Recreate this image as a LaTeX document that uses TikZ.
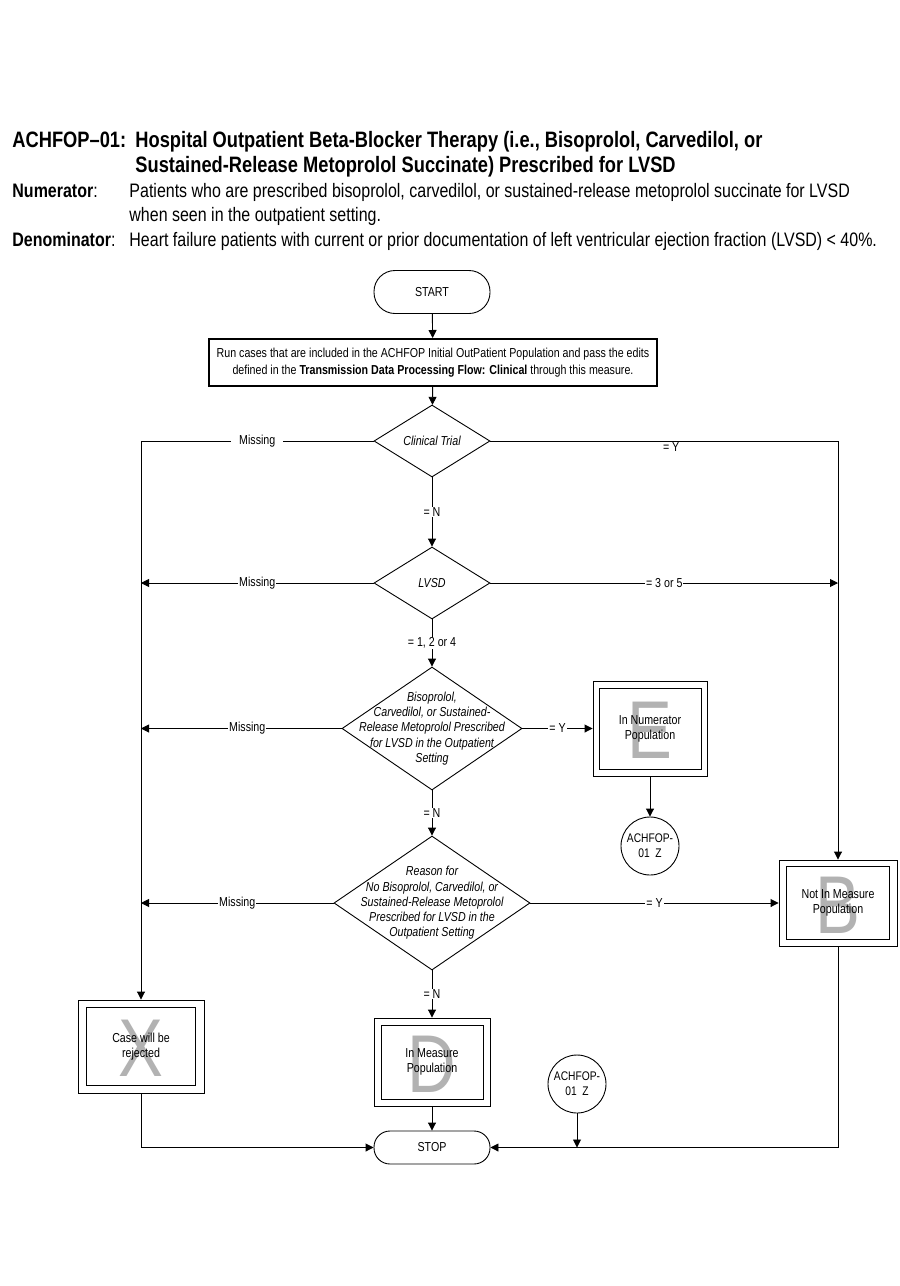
\documentclass[tikz,border=0pt]{standalone}
\usepackage{fontspec}
\setmainfont{Liberation Sans}[FakeStretch=0.82]
\usetikzlibrary{arrows.meta,shapes.geometric}
\begin{document}
\begin{tikzpicture}[x=1pt,y=-1pt,
  line width=0.9pt,
  >={Triangle[length=8pt,width=8pt]},
  hdr/.style={anchor=base west, inner sep=0pt, font=\fontsize{19.5}{24}\selectfont},
  ttl/.style={anchor=base west, inner sep=0pt, font=\fontsize{22.3}{26}\selectfont\bfseries},
  txt/.style={font=\fontsize{13}{15}\selectfont, align=center, inner sep=0pt},
  ctxt/.style={font=\fontsize{12.5}{15}\selectfont, align=center, inner sep=0pt},
  dia/.style={draw, diamond, inner sep=0pt},
  dtext/.style={font=\fontsize{13}{15.3}\selectfont\itshape, align=center, inner sep=0pt},
  term/.style={draw, rectangle, minimum width=116pt, font=\fontsize{13}{15}\selectfont},
  obox/.style={draw, rectangle, inner sep=0pt},
  big/.style={text=black!30, font=\fontsize{82}{82}\selectfont, inner sep=0pt},
  circ/.style={draw, circle, minimum size=58pt, inner sep=0pt},
  lab/.style={fill=white, inner sep=1pt, font=\fontsize{13}{15}\selectfont},
  labw/.style={fill=white, inner ysep=1pt, inner xsep=8pt, font=\fontsize{13}{15}\selectfont},
]
\useasboundingbox (0,0) rectangle (900,1286);
\fill[white] (0,0) rectangle (900,1286);

% header
\node[ttl] (t1) at (12,147) {ACHFOP\textendash01:};
\node[ttl] (t2) at (135,147) {Hospital Outpatient Beta-Blocker Therapy (i.e., Bisoprolol, Carvedilol, or};
\node[ttl] (t3) at (135,172) {Sustained-Release Metoprolol Succinate) Prescribed for LVSD};
\node[hdr] (n1) at (12,197) {\textbf{Numerator}:};
\node[hdr] (n2) at (129,197) {Patients who are prescribed bisoprolol, carvedilol, or sustained-release metoprolol succinate for LVSD};
\node[hdr] (n3) at (129,221) {when seen in the outpatient setting.};
\node[hdr] (m1) at (12,246) {\textbf{Denominator}:};
\node[hdr] (m2) at (129,246) {Heart failure patients with current or prior documentation of left ventricular ejection fraction (LVSD) < 40\%.};

% nodes
\node[term, minimum height=43pt, rounded corners=21pt] (start) at (432,292) {START};
\node[draw, line width=2pt, minimum width=448pt, minimum height=47pt, txt, font=\fontsize{13}{17}\selectfont] (run) at (433,362.5)
  {Run cases that are included in the ACHFOP Initial OutPatient Population and pass the edits\\
   defined in the \textbf{Transmission Data Processing Flow: Clinical} through this measure.};

\node[dia, minimum width=116pt, minimum height=72pt] (ct) at (432,441) {};
\node[dtext] (ctt) at (ct.center) {Clinical Trial};

\node[dia, minimum width=116pt, minimum height=72pt] (lv) at (432,583) {};
\node[dtext] (lvt) at (lv.center) {LVSD};

\node[dia, minimum width=180pt, minimum height=123pt] (d3) at (432,728.5) {};
\node[dtext] (d3t) at (d3.center) {Bisoprolol,\\Carvedilol, or Sustained-\\Release Metoprolol Prescribed\\for LVSD in the Outpatient\\Setting};

\node[dia, minimum width=196pt, minimum height=134pt] (d4) at (432,903) {};
\node[dtext] (d4t) at (d4.center) {Reason for\\No Bisoprolol, Carvedilol, or\\Sustained-Release Metoprolol\\Prescribed for LVSD in the\\Outpatient Setting};

% numerator box E
\node[obox, minimum width=114pt, minimum height=95pt] (num) at (650,728.5) {};
\node[obox, minimum width=102pt, minimum height=81pt] (numi) at (num.center) {};
\node[big] (numl) at ([yshift=-2pt]num.center) {E};
\node[txt] (numt) at (num.center) {In Numerator\\Population};

\node[circ] (c1) at (650,846) {};
\node[ctxt] (c1t) at (c1.center) {ACHFOP-\\01\ \ Z};

% not in measure box B
\node[obox, minimum width=118pt, minimum height=86pt] (nim) at (838,903) {};
\node[obox, minimum width=103pt, minimum height=73pt] (nimi) at (nim.center) {};
\node[big] (niml) at ([yshift=-2pt]nim.center) {B};
\node[txt] (nimt) at (nim.center) {Not In Measure\\Population};

% case rejected X
\node[obox, minimum width=126pt, minimum height=93pt] (case) at (141,1046.5) {};
\node[obox, minimum width=109pt, minimum height=78pt] (casei) at (case.center) {};
\node[big] (casel) at ([yshift=-2pt]case.center) {X};
\node[txt] (caset) at (case.center) {Case will be\\rejected};

% in measure D
\node[obox, minimum width=116pt, minimum height=88pt] (im) at (432,1062) {};
\node[obox, minimum width=102pt, minimum height=74pt] (imi) at (im.center) {};
\node[big] (iml) at ([yshift=-2pt]im.center) {D};
\node[txt] (imt) at (im.center) {In Measure\\Population};

\node[term, minimum height=33pt, rounded corners=16pt] (stop) at (432,1147.5) {STOP};
\node[circ] (c2) at (577,1084) {};
\node[ctxt] (c2t) at (c2.center) {ACHFOP-\\01\ \ Z};

% connectors
\draw[->] (start) -- (run);
\draw[->] (run) -- (ct);

\draw[->] (ct.west) -- node[labw]{Missing} (ct.west -| case.north) -- (case.north);
\draw[->] (ct.east) -- node[labw, pos=0.52, yshift=-6pt]{= Y} (ct.east -| nim.north) -- (nim.north);
\draw[->] (ct.south) -- node[lab]{= N} (lv.north);

\draw[->] (lv.west) -- node[lab]{Missing} (lv.west -| case.north);
\draw[->] (lv.east) -- node[lab]{= 3 or 5} (lv.east -| nim.north);
\draw[->] (lv.south) -- node[lab]{= 1, 2 or 4} (d3.north);

\draw[->] (d3.west) -- node[lab, pos=0.47]{Missing} (d3.west -| case.north);
\draw[->] (d3.east) -- node[lab]{= Y} (num.west);
\draw[->] (d3.south) -- node[lab]{= N} (d4.north);
\draw[->] (num.south) -- (c1.north);

\draw[->] (d4.west) -- node[lab]{Missing} (d4.west -| case.north);
\draw[->] (d4.east) -- node[lab]{= Y} (nim.west);
\draw[->] (d4.south) -- node[lab]{= N} (im.north);

\draw[->] (im.south) -- (stop.north);
\draw[->] (case.south) -- (case.south |- stop.west) -- (stop.west);
\draw[->] (nim.south) -- (nim.south |- stop.east) -- (stop.east);
\draw[->] (c2.south) -- (c2.south |- stop.east);
\end{tikzpicture}
\end{document}
